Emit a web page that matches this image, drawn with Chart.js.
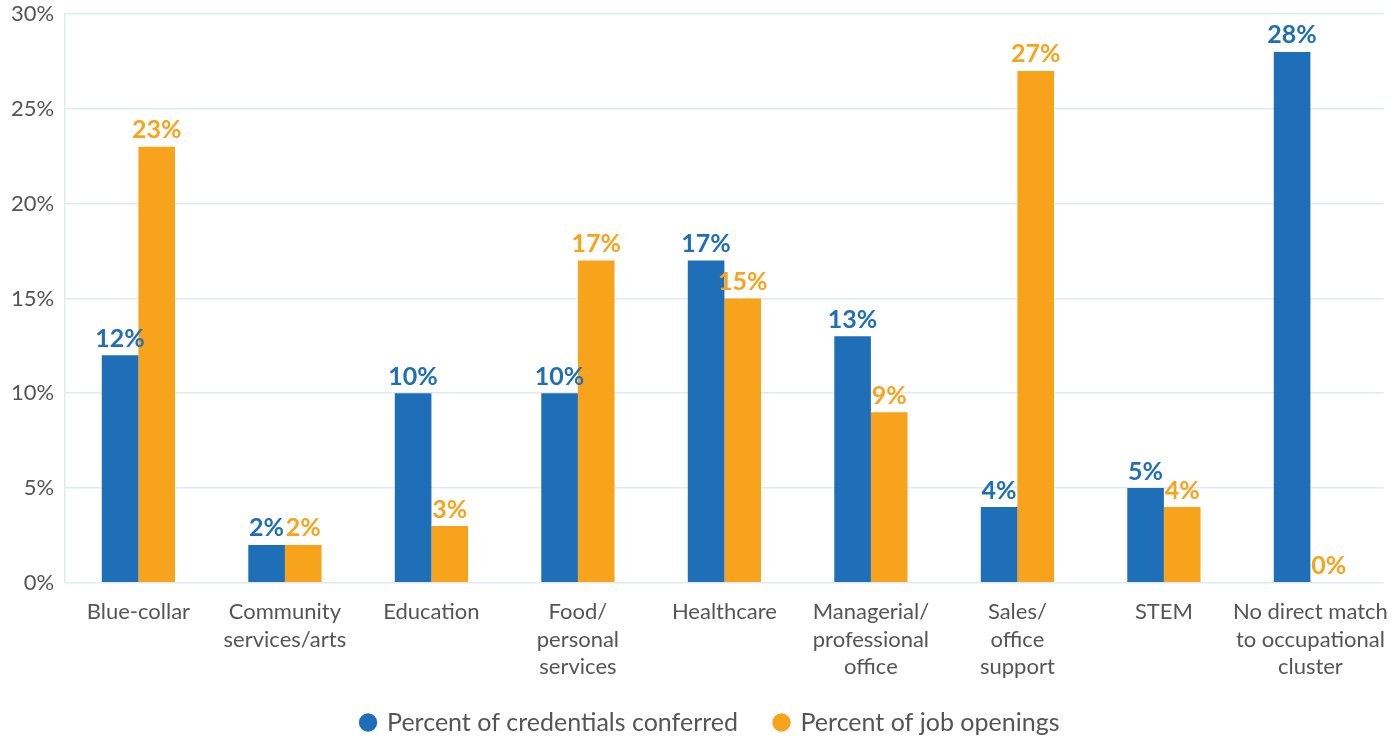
<!DOCTYPE html>
<html>
<head>
<meta charset="utf-8">
<script src="https://cdn.jsdelivr.net/npm/chart.js@4/dist/chart.umd.min.js"></script>
<style>
  html, body { margin: 0; padding: 0; background: #fff; }
  #wrap { width: 1396px; height: 740px; }
</style>
</head>
<body>
<div id="wrap"><canvas id="chart" width="1396" height="740"></canvas></div>
<script>
const categories = [
    ["Blue-collar"],
    ["Community", "services/arts"],
    ["Education"],
    ["Food/", "personal", "services"],
    ["Healthcare"],
    ["Managerial/", "professional", "office"],
    ["Sales/", "office", "support"],
    ["STEM"],
    ["No direct match", "to occupational", "cluster"]
];

const credentials = [12, 2, 10, 10, 17, 13, 4, 5, 28];
const jobOpenings = [23, 2, 3, 17, 15, 9, 27, 4, 0];

const seriesNames = ["Percent of credentials conferred", "Percent of job openings"];
const colors = ["#1f6fb8", "#f8a31c"];

const fontFamily = "Lato, 'Noto Sans', sans-serif";
const gridColor = "#dfeaf4";
const legendHeight = 52;

// value labels above each bar, in the bar's colour
const barLabels = {
    id: "barLabels",
    afterDatasetsDraw(chart) {
        const ctx = chart.ctx;
        ctx.save();
        ctx.font = "bold 25px " + fontFamily;
        ctx.textAlign = "center";
        ctx.textBaseline = "bottom";
        chart.data.datasets.forEach((ds, i) => {
            const meta = chart.getDatasetMeta(i);
            ctx.fillStyle = ds.backgroundColor;
            meta.data.forEach((bar, j) => {
                ctx.fillText(ds.data[j] + "%", bar.x, bar.y - 4);
            });
        });
        ctx.restore();
    }
};

// short legend box (the wide item gap would otherwise add a lot of height),
// then raise its top edge so the items sit a bit higher, and nudge it right
const legendSize = {
    id: "legendSize",
    afterInit(chart) {
        const legend = chart.legend;
        const fit = legend.fit;
        legend.fit = function () {
            fit.call(this);
            this.height = legendHeight;
        };
    },
    afterLayout(chart) {
        const legend = chart.legend;
        legend.top -= 15;
        legend.left += 14;
        legend.right += 14;
    }
};

const datasets = seriesNames.map((name, index) => {
    return {
        label: name,
        data: index === 0 ? credentials : jobOpenings,
        backgroundColor: colors[index],
        borderWidth: 0,
        categoryPercentage: 0.5,
        barPercentage: 1.0
    };
});

new Chart(document.getElementById("chart"), {
    type: "bar",
    data: {
        labels: categories,
        datasets
    },
    options: {
        responsive: false,
        animation: false,
        layout: { padding: { top: 14, right: 3, left: 0, bottom: 0 } },
        plugins: {
            legend: {
                position: "bottom",
                labels: {
                    usePointStyle: true,
                    pointStyle: "circle",
                    boxWidth: 13,
                    boxHeight: 13,
                    padding: 37,
                    color: "#555",
                    font: { family: fontFamily, size: 25 }
                }
            },
            tooltip: { enabled: false }
        },
        scales: {
            x: {
                grid: { display: false },
                border: { display: false },
                ticks: {
                    color: "#555",
                    font: { family: fontFamily, size: 22, lineHeight: 1.23 },
                    maxRotation: 0,
                    autoSkip: false,
                    padding: 8
                }
            },
            y: {
                min: 0,
                max: 30,
                afterFit: (scale) => { scale.paddingTop = 0; },
                grid: { color: gridColor, lineWidth: 1.5, drawTicks: false },
                border: { display: true, color: gridColor, width: 1.5 },
                ticks: {
                    stepSize: 5,
                    color: "#555",
                    padding: 11,
                    font: { family: fontFamily, size: 22 },
                    callback: (v) => v + "%"
                }
            }
        }
    },
    plugins: [barLabels, legendSize]
});
</script>
</body>
</html>
